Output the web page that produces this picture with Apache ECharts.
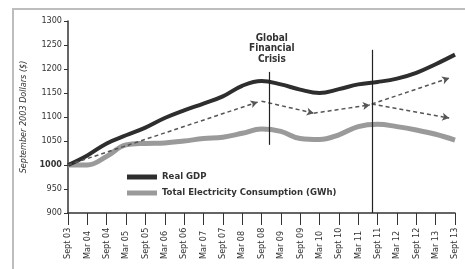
<!DOCTYPE html>
<html>
<head>
<meta charset="utf-8">
<script src="https://cdn.jsdelivr.net/npm/echarts@6/dist/echarts.min.js"></script>
<style>
  html, body { margin: 0; padding: 0; background: #fff; }
  #main { width: 465px; height: 269px; }
</style>
</head>
<body>
<div id="main"></div>
<script>
// half-yearly periods
var periods = ['Sept 03', 'Mar 04', 'Sept 04', 'Mar 05', 'Sept 05', 'Mar 06', 'Sept 06',
  'Mar 07', 'Sept 07', 'Mar 08', 'Sept 08', 'Mar 09', 'Sept 09', 'Mar 10', 'Sept 10',
  'Mar 11', 'Sept 11', 'Mar 12', 'Sept 12', 'Mar 13', 'Sept 13'];
var realGdp = [1000, 1020, 1045, 1062, 1078, 1098, 1114, 1128, 1143, 1165, 1175,
  1168, 1157, 1150, 1158, 1168, 1173, 1180, 1192, 1210, 1230];
var electricity = [1000, 1000, 1018, 1042, 1045, 1046, 1050, 1055, 1058, 1066, 1075,
  1070, 1055, 1053, 1063, 1080, 1085, 1080, 1073, 1064, 1052];
// trend arrows: [fromIndex, fromValue, toIndex, toValue]
var trendArrows = [
  [0, 1000, 9.8, 1131],
  [10.0, 1133, 12.7, 1108],
  [12.7, 1108, 15.6, 1125],
  [15.7, 1127, 19.7, 1181],
  [15.7, 1127, 19.7, 1098]
];
// event lines: [index, fromValue, toValue]
var eventLines = [
  [10.4, 1042, 1194],
  [15.7, 900, 1240]
];

var font = "'Liberation Sans Narrow', 'DejaVu Sans Condensed', 'Open Sans', sans-serif";

function pairs(arr) {
  return arr.map(function (v, i) { return [i, v]; });
}

var myChart = echarts.init(document.getElementById('main'));

var option = {
  animation: false,
  textStyle: { fontFamily: font },
  grid: { left: 68, right: 10, top: 21, bottom: 56 },
  graphic: [
    {
      type: 'rect',
      shape: { x: 13, y: 9, width: 470, height: 280 },
      style: { fill: 'none', stroke: '#bdbdbd', lineWidth: 2 }
    },
    {
      type: 'text',
      left: 269 - 20, top: 33,
      style: {
        text: 'Global\nFinancial\nCrisis',
        textAlign: 'center',
        x: 20,
        fill: '#333',
        font: 'bold 10px ' + font,
        lineHeight: 10.5
      }
    }
  ],
  legend: {
    orient: 'vertical',
    left: 122,
    top: 167,
    itemWidth: 30,
    itemHeight: 5,
    itemGap: 6,
    icon: 'rect',
    data: ['Real GDP', 'Total Electricity Consumption (GWh)'],
    textStyle: { fontSize: 9.5, fontWeight: 'bold', color: '#333', fontFamily: font }
  },
  xAxis: {
    type: 'value',
    min: 0,
    max: 20,
    interval: 1,
    splitLine: { show: false },
    axisLine: { lineStyle: { color: '#333', width: 1.5 } },
    axisTick: { length: 12, lineStyle: { color: '#333' } },
    axisLabel: {
      rotate: 90,
      align: 'left',
      fontSize: 9,
      color: '#333',
      margin: 46,
      formatter: function (v) { return periods[v] || ''; }
    }
  },
  yAxis: {
    type: 'value',
    min: 900,
    max: 1300,
    interval: 50,
    name: 'September 2003 Dollars ($)',
    nameLocation: 'middle',
    nameGap: 40,
    nameTextStyle: { fontStyle: 'italic', fontSize: 9, color: '#333' },
    splitLine: { show: false },
    axisLine: { show: true, lineStyle: { color: '#333', width: 1.5 } },
    axisTick: { show: true, length: 4, lineStyle: { color: '#333' } },
    axisLabel: {
      fontSize: 9,
      color: '#333',
      margin: 6,
      formatter: function (v) { return v === 1000 ? '{b|' + v + '}' : String(v); },
      rich: { b: { fontWeight: 'bold', fontSize: 9, color: '#333' } }
    }
  },
  series: [
    {
      name: 'Real GDP',
      type: 'line',
      smooth: 0.4,
      symbol: 'none',
      color: '#2e2e2e',
      lineStyle: { width: 4, color: '#2e2e2e' },
      data: pairs(realGdp),
      z: 3
    },
    {
      name: 'Total Electricity Consumption (GWh)',
      type: 'line',
      smooth: 0.4,
      symbol: 'none',
      color: '#9a9a9a',
      lineStyle: { width: 5, color: '#9a9a9a' },
      data: pairs(electricity),
      z: 2
    },
    {
      name: 'trend',
      type: 'line',
      data: [],
      markLine: {
        silent: true,
        symbol: ['none', 'arrow'],
        symbolSize: [6, 7],
        label: { show: false },
        lineStyle: { type: [4, 3], color: '#555', width: 1.5 },
        data: trendArrows.map(function (a) {
          return [{ coord: [a[0], a[1]] }, { coord: [a[2], a[3]] }];
        })
      }
    },
    {
      name: 'events',
      type: 'line',
      data: [],
      markLine: {
        silent: true,
        symbol: 'none',
        label: { show: false },
        lineStyle: { type: 'solid', color: '#222', width: 1.2 },
        data: eventLines.map(function (e) {
          return [{ coord: [e[0], e[1]] }, { coord: [e[0], e[2]] }];
        })
      }
    }
  ]
};

myChart.setOption(option);
</script>
</body>
</html>
